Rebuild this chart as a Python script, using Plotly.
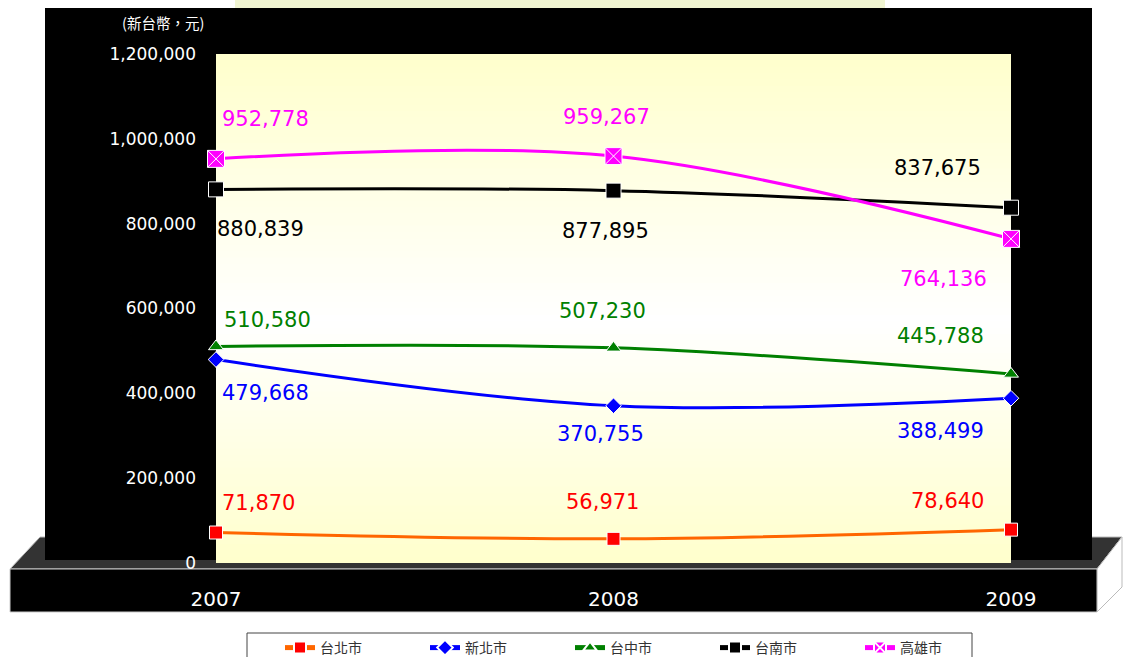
import plotly.graph_objects as go

# ---------------- data ----------------
years = [2007, 2008, 2009]
year_labels = ["2007", "2008", "2009"]
taipei = [71870, 56971, 78640]
new_taipei = [479668, 370755, 388499]
taichung = [510580, 507230, 445788]
tainan = [880839, 877895, 837675]
kaohsiung = [952778, 959267, 764136]
series_names = ["台北市", "新北市", "台中市", "台南市", "高雄市"]
y_tick_vals = [0, 200000, 400000, 600000, 800000, 1000000, 1200000]
y_tick_text = ["0", "200,000", "400,000", "600,000", "800,000", "1,000,000", "1,200,000"]
unit_label = "(新台幣，元)"

# ---------------- style ----------------
W, H = 1123, 657
L, R, T, B = 216, 1011, 54, 563


def px(x):
    return (x - L) / (R - L)


def py(y):
    return (B - y) / (B - T)


series_values = [taipei, new_taipei, taichung, tainan, kaohsiung]
line_colors = ["#FF6600", "#0000FF", "#008000", "#000000", "#FF00FF"]
label_colors = ["#FF0000", "#0000FF", "#008000", "#000000", "#FF00FF"]
marker_colors = ["#FF0000", "#0000FF", "#008000", "#000000", "#FF00FF"]
marker_symbols = ["square", "diamond", "triangle-up", "square", "square-x"]
marker_sizes = [13, 12, 13, 15, 17]
# label offsets (px) per series per year; yshift + is up
label_yshift = [
    [30, 37, 29],
    [-33, -28, -33],
    [26, 37, 38],
    [-40, -40, 40],
    [40, 39, -40],
]
label_xshift = [
    [4, -11, -25],
    [4, -13, -25],
    [6, -11, -25],
    [-1, -8, -28],
    [4, -7, -22],
]
label_xanchor = ["left", "center", "right"]

fig = go.Figure()

for name, vals, lc, mc, sym, ms in zip(series_names, series_values, line_colors,
                                        marker_colors, marker_symbols, marker_sizes):
    fig.add_trace(go.Scatter(
        x=years, y=vals, name=name, mode="lines+markers",
        line=dict(color=lc, width=3, shape="spline", smoothing=1),
        marker=dict(symbol=sym, size=ms, color=mc, line=dict(color="white", width=1)),
        cliponaxis=False,
    ))

annotations = []
for vals, col, ysh, xsh in zip(series_values, label_colors, label_yshift, label_xshift):
    for i, (yr, v) in enumerate(zip(years, vals)):
        annotations.append(dict(
            x=yr, y=v, xref="x", yref="y", text=f"{v:,}", showarrow=False,
            xanchor=label_xanchor[i], yanchor="middle",
            xshift=xsh[i], yshift=ysh[i],
            font=dict(family="DejaVu Sans", size=21, color=col),
        ))

annotations.append(dict(
    x=px(163), y=py(22), xref="paper", yref="paper", text=unit_label,
    showarrow=False, xanchor="center", yanchor="middle",
    font=dict(family="Noto Sans CJK TC", size=14.5, color="white"),
))

shapes = []
# faint decoration strip at very top
shapes.append(dict(type="rect", xref="paper", yref="paper",
                   x0=px(235), x1=px(885), y0=py(8), y1=py(0),
                   fillcolor="#F1F5D2", line=dict(width=0), layer="below"))
# base top face
shapes.append(dict(type="path", xref="paper", yref="paper",
                   path=f"M {px(10)} {py(569)} L {px(40)} {py(537)} L {px(1122)} {py(537)} L {px(1097)} {py(569)} Z",
                   fillcolor="#333333", line=dict(color="#BBBBBB", width=1), layer="below"))
# base right side face
shapes.append(dict(type="path", xref="paper", yref="paper",
                   path=f"M {px(1097)} {py(569)} L {px(1122)} {py(537)} L {px(1122)} {py(587)} L {px(1097)} {py(612)} Z",
                   fillcolor="white", line=dict(color="#BBBBBB", width=1), layer="below"))
# black back panel
shapes.append(dict(type="rect", xref="paper", yref="paper",
                   x0=px(45), x1=px(1092), y0=py(560), y1=py(8),
                   fillcolor="black", line=dict(width=0), layer="below"))
# base front face
shapes.append(dict(type="rect", xref="paper", yref="paper",
                   x0=px(10), x1=px(1097), y0=py(612), y1=py(569),
                   fillcolor="black", line=dict(color="#CCCCCC", width=1), layer="below"))

# plot area vertical gradient
stops = [(54, (255, 255, 204)), (320, (255, 255, 255)), (563, (255, 255, 204))]


def col_at(y):
    for (y0, c0), (y1, c1) in zip(stops[:-1], stops[1:]):
        if y0 <= y <= y1:
            t = (y - y0) / (y1 - y0)
            return "rgb(%d,%d,%d)" % tuple(round(a + (b - a) * t) for a, b in zip(c0, c1))
    return "rgb(255,255,204)"


n = 80
step = (B - T) / n
for k in range(n):
    y0 = T + k * step
    y1 = min(y0 + step + 2.5, B)
    shapes.append(dict(type="rect", xref="paper", yref="paper",
                       x0=0, x1=1, y0=py(y1), y1=py(y0),
                       fillcolor=col_at(y0 + step / 2), line=dict(width=0), layer="below"))

# legend box
shapes.append(dict(type="rect", xref="paper", yref="paper",
                   x0=px(247), x1=px(972), y0=py(662), y1=py(633),
                   fillcolor="white", line=dict(color="#444444", width=1), layer="below"))

fig.update_layout(
    width=W, height=H,
    margin=dict(l=L, r=W - R, t=T, b=H - B, pad=0),
    paper_bgcolor="white",
    plot_bgcolor="rgba(0,0,0,0)",
    shapes=shapes,
    annotations=annotations,
    showlegend=True,
    legend=dict(
        orientation="h", xref="container", yref="container",
        x=280 / W, xanchor="left", y=1 - 632 / H, yanchor="top",
        entrywidth=100, entrywidthmode="pixels", itemsizing="constant",
        font=dict(family="Noto Sans CJK TC", size=14, color="#333333"),
        bgcolor="rgba(0,0,0,0)", borderwidth=0, traceorder="normal",
    ),
    xaxis=dict(
        range=[2007, 2009], tickvals=years, ticktext=year_labels,
        showgrid=False, zeroline=False, showline=False, ticks="",
        tickfont=dict(family="DejaVu Sans", size=20, color="white"),
        ticklabelstandoff=22,
    ),
    yaxis=dict(
        range=[0, 1200000], tickvals=y_tick_vals, ticktext=y_tick_text,
        showgrid=False, zeroline=False, showline=False, ticks="",
        tickfont=dict(family="DejaVu Sans", size=17, color="white"),
        ticklabelstandoff=19,
    ),
)

fig.write_html("out.html", config={"displayModeBar": False},
               post_script="document.body.style.margin='0';")
